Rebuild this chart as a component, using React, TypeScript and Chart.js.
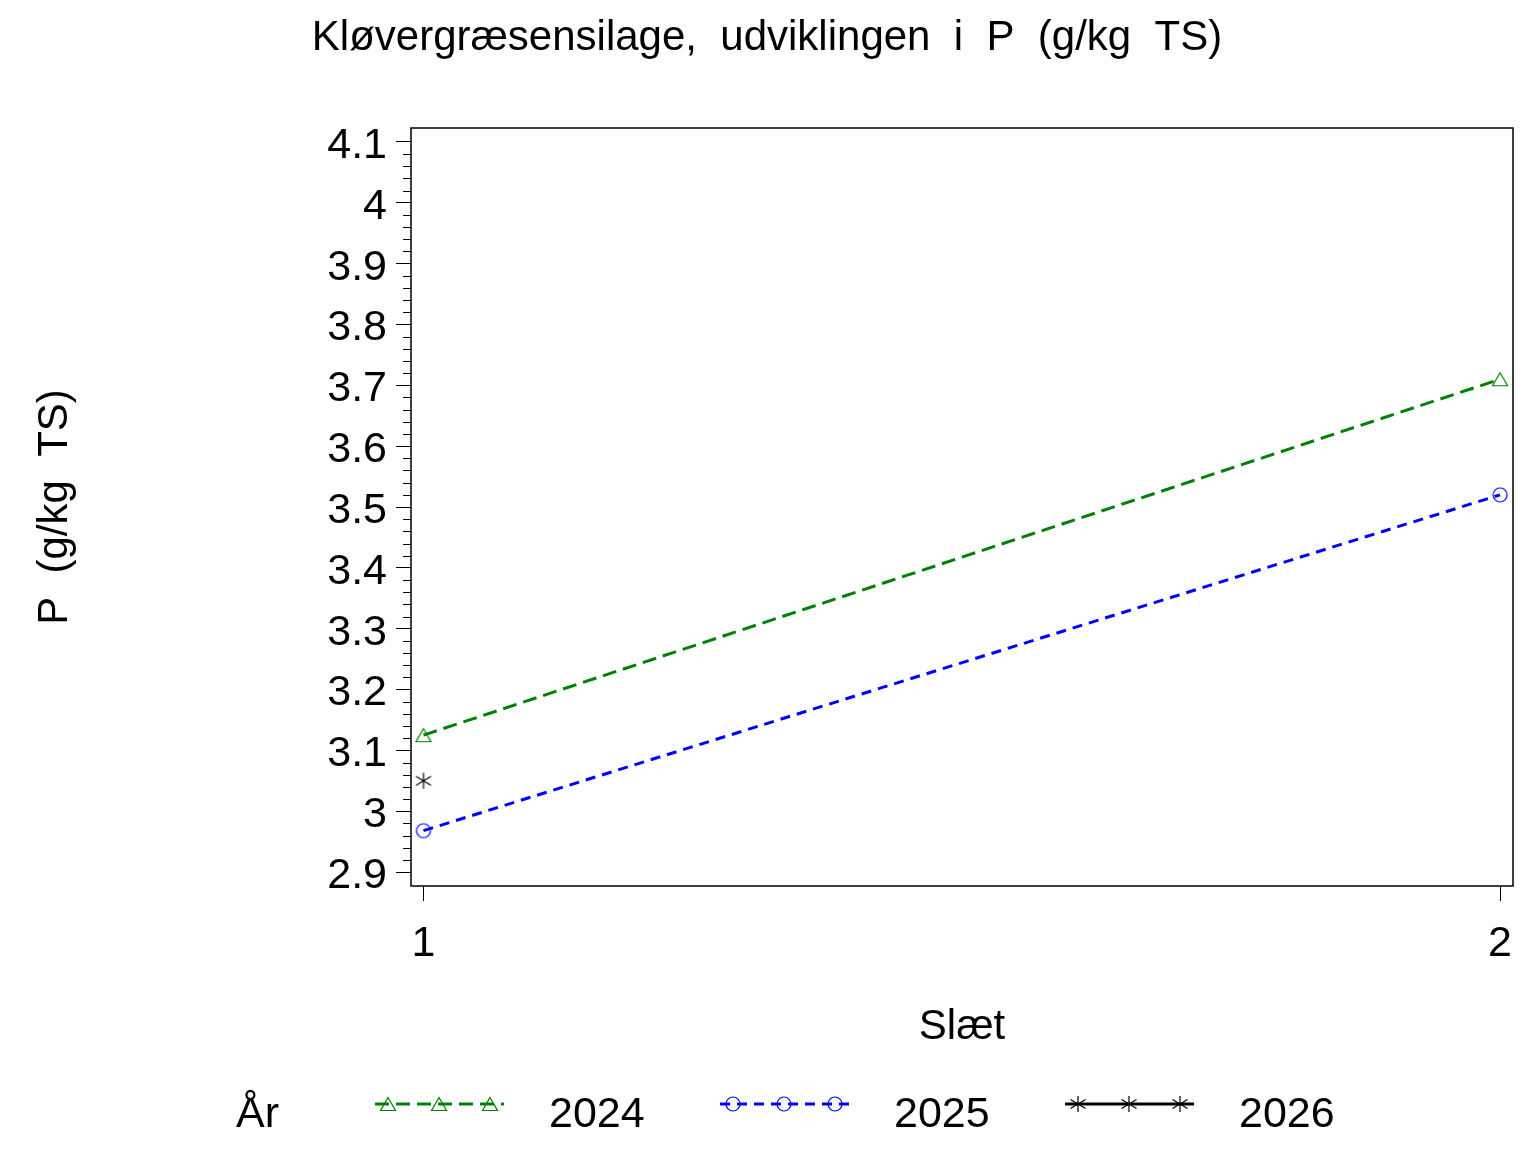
import { useEffect, useRef } from 'react';
import { Chart, registerables } from 'chart.js';

Chart.register(...registerables);

// Slæt (cut number) on x, P content (g/kg TS) per year on y
const slaet = [1, 2];
const p2024 = [3.125, 3.71];
const p2025 = [2.968, 3.52];
const p2026 = [3.05, null];
const years = ['2024', '2025', '2026'];

const xTickValues = [1, 2];
const xTickLabels = ['1', '2'];
const yTickValues = [2.9, 3.0, 3.1, 3.2, 3.3, 3.4, 3.5, 3.6, 3.7, 3.8, 3.9, 4.0, 4.1];
const yTickLabels = ['2.9', '3', '3.1', '3.2', '3.3', '3.4', '3.5', '3.6', '3.7', '3.8', '3.9', '4', '4.1'];

const titleText = 'Kløvergræsensilage,  udviklingen  i  P  (g/kg  TS)';
const yTitle = 'P  (g/kg  TS)';
const xTitle = 'Slæt';
const legendTitle = 'År';

const FAMILY = '"Liberation Sans", Arial, Helvetica, sans-serif';
const titleFont = { family: FAMILY, size: 42, weight: 'normal' as const };
const tickFont = { family: FAMILY, size: 43, weight: 'normal' as const };

const makeMarker = (kind: 'triangle' | 'circle' | 'star', color: string) => {
  const c = document.createElement('canvas');
  c.width = 20;
  c.height = 20;
  const g = c.getContext('2d')!;
  g.strokeStyle = color;
  g.lineWidth = 1.2;
  g.beginPath();
  if (kind === 'triangle') {
    g.moveTo(10, 3.5);
    g.lineTo(17.5, 16.5);
    g.lineTo(2.5, 16.5);
    g.closePath();
  } else if (kind === 'circle') {
    g.arc(10, 10, 7, 0, Math.PI * 2);
  } else {
    g.moveTo(10, 2);
    g.lineTo(10, 18);
    g.moveTo(2.5, 5.5);
    g.lineTo(17.5, 14.5);
    g.moveTo(17.5, 5.5);
    g.lineTo(2.5, 14.5);
  }
  g.stroke();
  return c;
};

// frame around the plot and the small ticks between the labelled ones
const framePlugin = {
  id: 'frame',
  beforeDatasetsDraw(chart: any) {
    const { ctx, chartArea } = chart;
    const y = chart.scales.y;
    ctx.save();
    ctx.strokeStyle = '#000';
    ctx.lineWidth = 1.5;
    ctx.strokeRect(chartArea.left, chartArea.top, chartArea.right - chartArea.left, chartArea.bottom - chartArea.top);
    ctx.lineWidth = 1;
    ctx.beginPath();
    for (let i = 0; i < yTickValues.length - 1; i++) {
      const step = (yTickValues[i + 1] - yTickValues[i]) / 5;
      for (let k = 1; k < 5; k++) {
        const py = Math.round(y.getPixelForValue(yTickValues[i] + step * k)) + 0.5;
        ctx.moveTo(chartArea.left - 8, py);
        ctx.lineTo(chartArea.left, py);
      }
    }
    ctx.stroke();
    ctx.restore();
  },
};

const legendPlugin = {
  id: 'sasLegend',
  afterDraw(chart: any) {
    const { ctx } = chart;
    const lineY = 1104;
    const textY = 1127;
    ctx.save();
    ctx.font = `43px ${FAMILY}`;
    ctx.fillStyle = '#000';
    ctx.textBaseline = 'alphabetic';
    ctx.textAlign = 'left';
    ctx.fillText(legendTitle, 236, textY);
    chart.data.datasets.forEach((ds: any, i: number) => {
      const x0 = 375 + i * 345;
      ctx.save();
      ctx.strokeStyle = ds.borderColor;
      ctx.lineWidth = ds.borderWidth;
      ctx.setLineDash(ds.borderDash || []);
      ctx.beginPath();
      ctx.moveTo(x0, lineY);
      ctx.lineTo(x0 + 129, lineY);
      ctx.stroke();
      ctx.restore();
      const m = ds.pointStyle as HTMLCanvasElement;
      [13, 64, 115].forEach((dx) => {
        ctx.drawImage(m, x0 + dx - m.width / 2, lineY - m.height / 2);
      });
      ctx.fillText(ds.label, x0 + 174, textY);
    });
    ctx.restore();
  },
};

const App = () => {
  const canvasRef = useRef<HTMLCanvasElement>(null);
  const chartRef = useRef<Chart | null>(null);

  useEffect(() => {
    if (!canvasRef.current) return;
    if (chartRef.current) {
      chartRef.current.destroy();
    }
    const ctx = canvasRef.current.getContext('2d');
    if (!ctx) return;

    const series = [
      { values: p2024, color: '#008000', dash: [14, 7], marker: makeMarker('triangle', '#008000') },
      { values: p2025, color: '#0000ff', dash: [10, 7], marker: makeMarker('circle', '#0000ff') },
      { values: p2026, color: '#000000', dash: [] as number[], marker: makeMarker('star', '#000000') },
    ];

    chartRef.current = new Chart(ctx, {
      type: 'line',
      data: {
        datasets: series.map((s, i) => ({
          label: years[i],
          data: s.values.map((v, j) => ({ x: slaet[j], y: v })),
          borderColor: s.color,
          borderWidth: 3,
          borderDash: s.dash,
          pointStyle: s.marker,
          pointRadius: 8,
          pointBorderColor: s.color,
          pointBackgroundColor: 'rgba(0,0,0,0)',
          fill: false,
          tension: 0,
        })),
      } as any,
      plugins: [framePlugin, legendPlugin],
      options: {
        animation: false,
        responsive: false,
        devicePixelRatio: 1,
        layout: { padding: { left: 21, right: 23, top: 0, bottom: 96 } },
        plugins: {
          legend: { display: false },
          tooltip: { enabled: false },
          title: {
            display: true,
            text: titleText,
            color: '#000',
            font: titleFont,
            padding: { top: 13, bottom: 64.6 },
          },
        },
        scales: {
          x: {
            type: 'linear',
            min: 0.9884,
            max: 2.012,
            bounds: 'data',
            afterBuildTicks: (s: any) => {
              s.ticks = xTickValues.map((v) => ({ value: v }));
            },
            afterFit: (s: any) => {
              s.height = 170;
            },
            ticks: {
              callback: (_v: any, i: number) => xTickLabels[i],
              color: '#000',
              font: tickFont,
              padding: 17,
              maxRotation: 0,
              autoSkip: false,
            },
            grid: { drawOnChartArea: false, tickLength: 15, color: '#000', tickColor: '#000', tickWidth: 1 },
            border: { display: false },
            title: { display: true, text: xTitle, color: '#000', font: titleFont, padding: { top: 0, bottom: 3 } },
          },
          y: {
            type: 'linear',
            min: 2.877,
            max: 4.123,
            bounds: 'data',
            afterBuildTicks: (s: any) => {
              s.ticks = yTickValues.map((v) => ({ value: v }));
            },
            afterFit: (s: any) => {
              s.width = 390;
            },
            ticks: {
              callback: (_v: any, i: number) => yTickLabels[i],
              color: '#000',
              font: tickFont,
              padding: 9,
              labelOffset: 4,
              autoSkip: false,
            },
            grid: { drawOnChartArea: false, tickLength: 15, color: '#000', tickColor: '#000', tickWidth: 1 },
            border: { display: false },
            title: { display: true, text: yTitle, color: '#000', font: titleFont, padding: { top: 9, bottom: 0 } },
          },
        },
      } as any,
    });

    return () => {
      if (chartRef.current) {
        chartRef.current.destroy();
        chartRef.current = null;
      }
    };
  }, []);

  return (
    <div style={{ position: 'absolute', left: 0, top: 0, width: 1536, height: 1152, background: '#fff' }}>
      <canvas ref={canvasRef} width={1536} height={1152} style={{ display: 'block', width: 1536, height: 1152 }} />
    </div>
  );
};

export default App;
